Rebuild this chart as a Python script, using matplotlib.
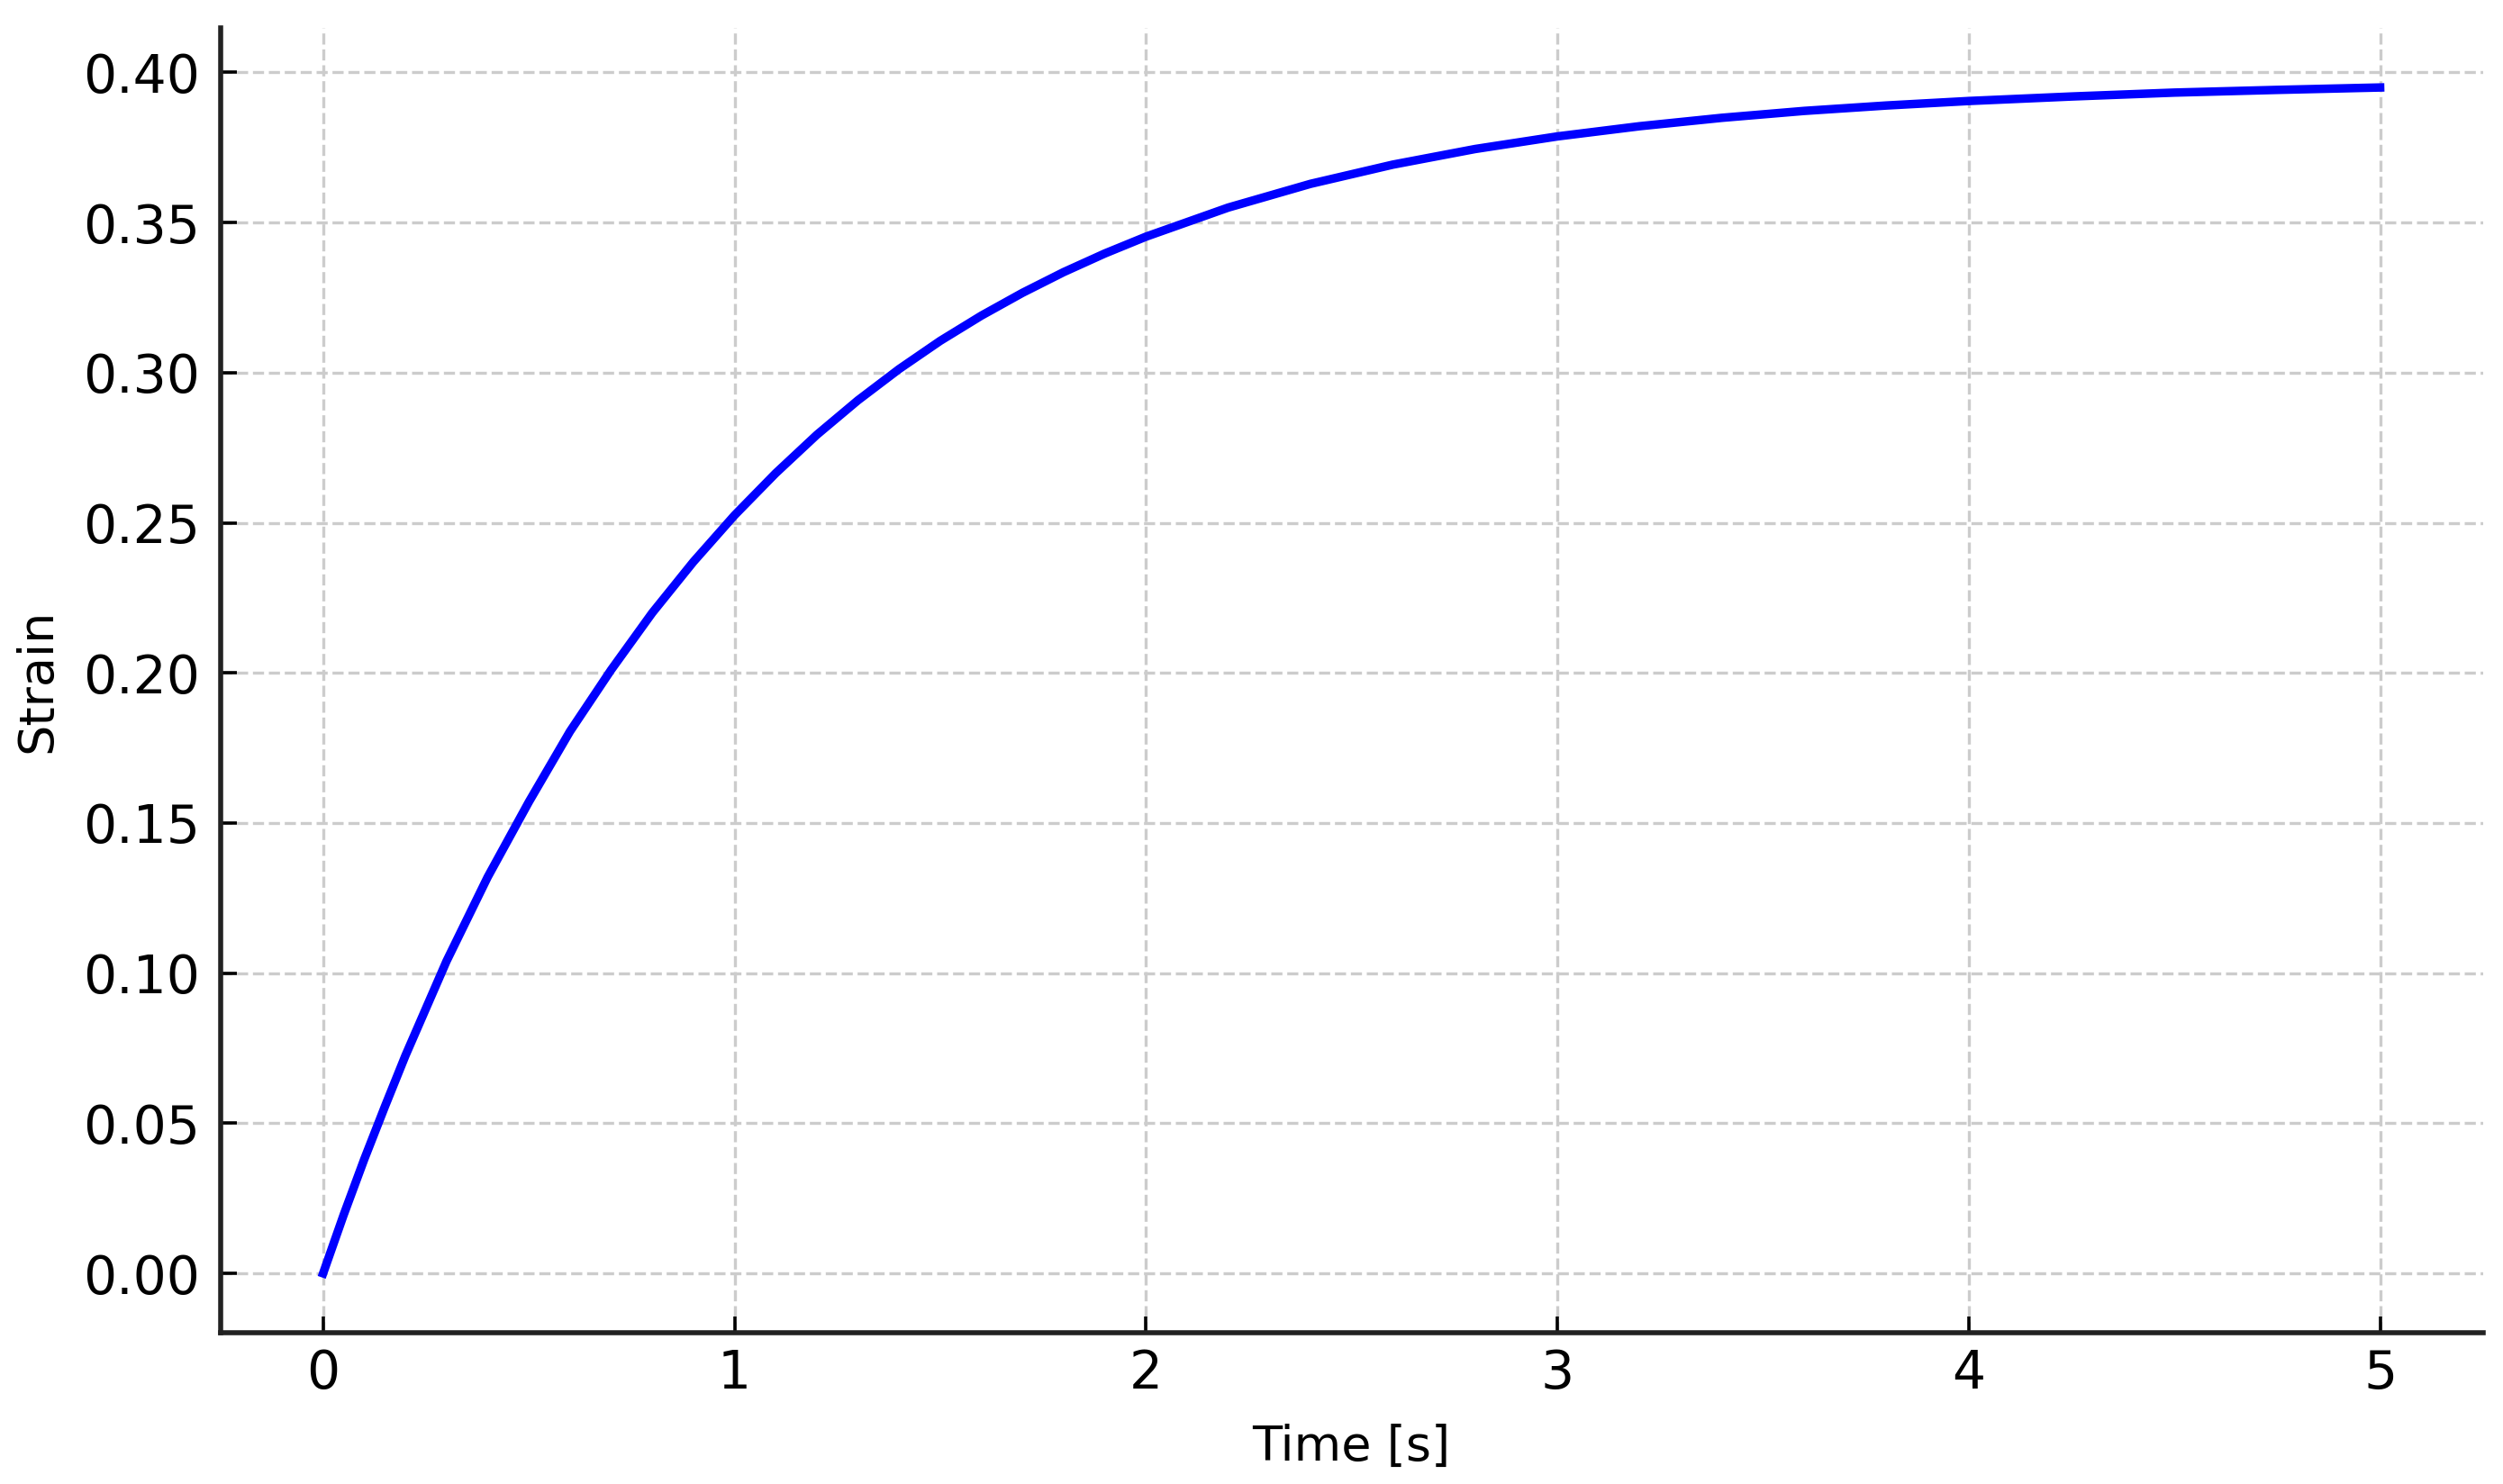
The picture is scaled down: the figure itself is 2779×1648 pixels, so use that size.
import matplotlib.pyplot as plt

# Zeit und Dehnung
time_s = [0.0, 0.05, 0.1, 0.15, 0.2, 0.3, 0.4, 0.5, 0.6, 0.7, 0.8, 0.9, 1.0,
          1.1, 1.2, 1.3, 1.4, 1.5, 1.6, 1.7, 1.8, 1.9, 2.0,
          2.2, 2.4, 2.6, 2.8, 3.0, 3.2, 3.4, 3.6, 3.8, 4.0,
          4.25, 4.5, 4.75, 5.0]
strain = [0.0, 0.0195, 0.038, 0.0555, 0.0725, 0.104, 0.132, 0.157, 0.1805, 0.201, 0.220, 0.237, 0.2525,
          0.2665, 0.2793, 0.2908, 0.3012, 0.3106, 0.319, 0.3266, 0.3335, 0.3397, 0.3453,
          0.355, 0.3629, 0.3693, 0.3745, 0.3787, 0.3821, 0.3849, 0.3872, 0.389, 0.3905,
          0.392, 0.3933, 0.3942, 0.395]

fig = plt.figure(figsize=(13.895, 8.24), dpi=200)
ax = fig.add_axes([0.088, 0.102, 0.904, 0.879])

ax.plot(time_s, strain, color="blue", linewidth=3.4)

ax.set_xlabel("Time [s]", fontsize=19.5, labelpad=10)
ax.set_ylabel("Strain", fontsize=19.5, labelpad=9)
ax.set_yticks([0.0, 0.05, 0.10, 0.15, 0.20, 0.25, 0.30, 0.35, 0.40])
ax.yaxis.set_major_formatter(plt.FormatStrFormatter("%.2f"))

ax.tick_params(axis="both", direction="in", labelsize=21, length=6.5, width=1.3)
ax.tick_params(axis="x", pad=6)
ax.tick_params(axis="y", pad=8)

ax.grid(True, linestyle="--", color="#cccccc", linewidth=1.2)
ax.spines["top"].set_visible(False)
ax.spines["right"].set_visible(False)
ax.spines["left"].set_linewidth(2)
ax.spines["bottom"].set_linewidth(2)
ax.spines["left"].set_color("#222222")
ax.spines["bottom"].set_color("#222222")

fig.savefig("out.png", dpi=200)
